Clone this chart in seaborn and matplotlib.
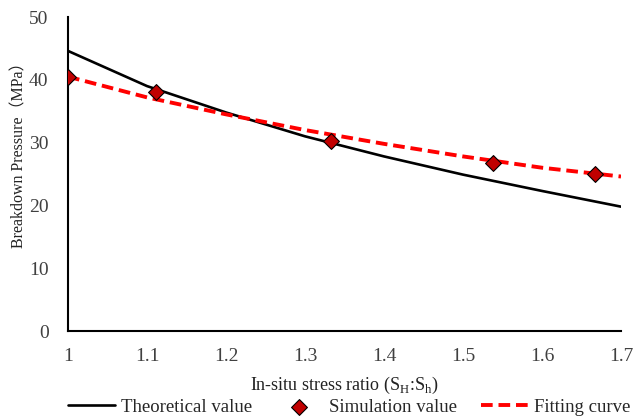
import matplotlib
matplotlib.use("Agg")
import matplotlib.pyplot as plt
import seaborn as sns
import pandas as pd

# Data
ratio_curve = [1.0, 1.1, 1.2, 1.3, 1.4, 1.5, 1.6, 1.7]
theoretical = [44.6, 39.0, 34.8, 31.0, 27.8, 24.9, 22.3, 19.8]
fitting = [40.5, 37.2, 34.5, 32.0, 29.8, 27.8, 26.0, 24.6]
ratio_sim = [1.0, 1.111, 1.333, 1.538, 1.667]
simulation = [40.5, 38.0, 30.3, 26.7, 25.0]

x_ticks = [1, 1.1, 1.2, 1.3, 1.4, 1.5, 1.6, 1.7]
x_tick_labels = ["1", "1.1", "1.2", "1.3", "1.4", "1.5", "1.6", "1.7"]
y_ticks = [0, 10, 20, 30, 40, 50]

sns.set_style("white")
plt.rcParams['font.family'] = ['Liberation Serif', 'Noto Sans CJK SC', 'DejaVu Sans']

df_c = pd.DataFrame({"x": ratio_curve, "theo": theoretical, "fit": fitting})
df_s = pd.DataFrame({"x": ratio_sim, "sim": simulation})

fig = plt.figure(figsize=(6.35, 4.19), dpi=100)
ax = fig.add_axes([68/635, 1-331/419, (621-68)/635, (331-17)/419])

sns.lineplot(data=df_c, x="x", y="theo", ax=ax, color="black", lw=1.9,
             label="Theoretical value")
sns.scatterplot(data=df_s, x="x", y="sim", ax=ax, marker="D", s=65,
                color="#C00000", edgecolor="black", linewidth=0.8,
                label="Simulation value", zorder=5)
sns.lineplot(data=df_c, x="x", y="fit", ax=ax, color="#FF0000", lw=2.8,
             linestyle=(0, (3, 1.5)), label="Fitting curve", zorder=4)

ax.set_xlim(1, 1.7)
ax.set_ylim(0, 50)
ax.set_xticks(x_ticks)
ax.set_xticklabels(x_tick_labels)
ax.set_yticks(y_ticks)
for s in ["top", "right"]:
    ax.spines[s].set_visible(False)
for s in ["left", "bottom"]:
    ax.spines[s].set_color("black")
    ax.spines[s].set_linewidth(1.5)
ax.tick_params(direction="in", length=4, width=1.5, colors="black",
               labelcolor="#404040", labelsize=14, pad=14)
ax.tick_params(axis="x", pad=12)
ax.set_xlabel("In-situ stress ratio (S$_\\mathregular{H}$:S$_\\mathregular{h}$)",
              fontsize=13, color="#222222", labelpad=7)
ax.set_ylabel("Breakdown Pressure（MPa）", fontsize=11.5, color="#222222")
ax.yaxis.set_label_coords(-(68-27)/553, (331-151)/314)
ax.get_legend().remove()

handles, labels = ax.get_legend_handles_labels()
fig.legend(handles, labels, loc="center", bbox_to_anchor=(0.55, 1-407/419),
           ncol=3, frameon=False, fontsize=13.5, handlelength=2.5,
           columnspacing=1.25, handletextpad=0.35)

fig.savefig("out.png", dpi=100)
